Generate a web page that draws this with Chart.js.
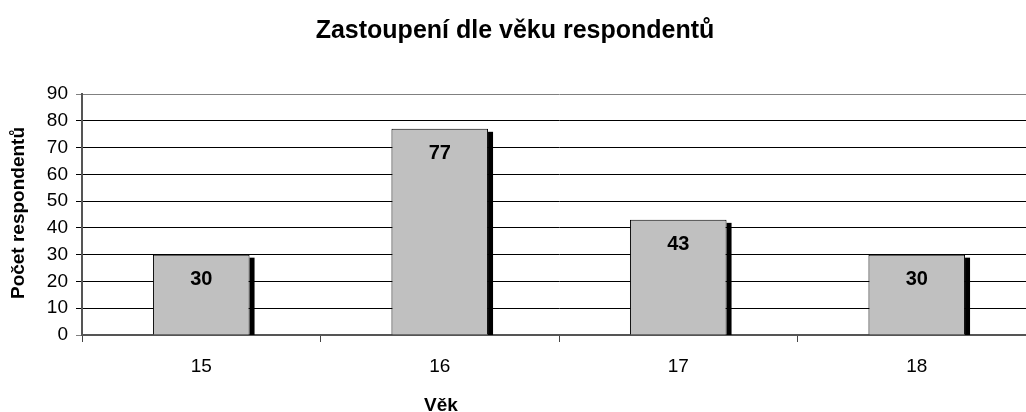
<!DOCTYPE html>
<html>
<head>
<meta charset="utf-8">
<script src="https://cdn.jsdelivr.net/npm/chart.js@4"></script>
<style>
  html, body { margin: 0; padding: 0; background: #fff; overflow: hidden; }
  #wrap { position: relative; width: 1040px; height: 412px; }
</style>
</head>
<body>
<div id="wrap"><canvas id="chart"></canvas></div>
<script>
// chart data
const ages = ['15', '16', '17', '18'];
const counts = [30, 77, 43, 30];
const chartTitle = 'Zastoupení dle věku respondentů';
const xTitle = 'Věk';
const yTitle = 'Počet respondentů';

const FONT = '"Liberation Sans", Arial, sans-serif';

// black drop shadow on the right side of each bar
const barShadow = {
    id: 'barShadow',
    beforeDatasetsDraw(chart) {
        const ctx = chart.ctx;
        const base = chart.scales.y.getPixelForValue(0);
        ctx.save();
        ctx.fillStyle = '#000';
        chart.getDatasetMeta(0).data.forEach(bar => {
            const right = bar.x + bar.width / 2;
            ctx.fillRect(right, bar.y + 3, 5, base - bar.y - 3);
        });
        ctx.restore();
    }
};

// value labels inside bars + titles
const textLayer = {
    id: 'textLayer',
    afterDatasetsDraw(chart) {
        const ctx = chart.ctx;
        ctx.save();
        ctx.fillStyle = '#000';
        ctx.textAlign = 'center';
        ctx.textBaseline = 'middle';
        ctx.font = 'bold 20px ' + FONT;
        chart.getDatasetMeta(0).data.forEach((bar, i) => {
            ctx.fillText(String(counts[i]), bar.x, bar.y + 25);
        });

        ctx.textBaseline = 'alphabetic';
        ctx.font = 'bold 25px ' + FONT;
        ctx.fillText(chartTitle, 515, 38);

        ctx.font = 'bold 19px ' + FONT;
        ctx.fillText(xTitle, 441, 411);

        ctx.translate(19, 213);
        ctx.rotate(-Math.PI / 2);
        ctx.textBaseline = 'middle';
        ctx.fillText(yTitle, 0, 0);
        ctx.restore();
    }
};

new Chart(document.getElementById('chart'), {
    type: 'bar',
    data: {
        labels: ages,
        datasets: [{
            data: counts,
            backgroundColor: '#C0C0C0',
            borderColor: '#000',
            borderWidth: 1,
            categoryPercentage: 1,
            barPercentage: 0.405
        }]
    },
    options: {
        responsive: true,
        maintainAspectRatio: false,
        animation: false,
        layout: { padding: { top: 94, left: 0, right: 4, bottom: 0 } },
        plugins: {
            legend: { display: false },
            tooltip: { enabled: false }
        },
        scales: {
            x: {
                afterFit: scale => { scale.height = 77; },
                grid: {
                    display: true,
                    offset: true,
                    drawOnChartArea: false,
                    tickLength: 7,
                    color: '#444'
                },
                border: { color: '#555', width: 2 },
                ticks: {
                    color: '#000',
                    padding: 13,
                    font: { family: FONT, size: 19 }
                }
            },
            y: {
                min: 0,
                max: 90,
                afterFit: scale => { scale.width = 82; },
                grid: {
                    color: ctx => (ctx.tick && (ctx.tick.value === 90 || ctx.tick.value === 0)) ? '#808080' : '#000',
                    tickLength: 6
                },
                border: { color: '#555', width: 2 },
                ticks: {
                    stepSize: 10,
                    color: '#000',
                    padding: 8,
                    font: { family: FONT, size: 19 }
                }
            }
        }
    },
    plugins: [barShadow, textLayer]
});
</script>
</body>
</html>
